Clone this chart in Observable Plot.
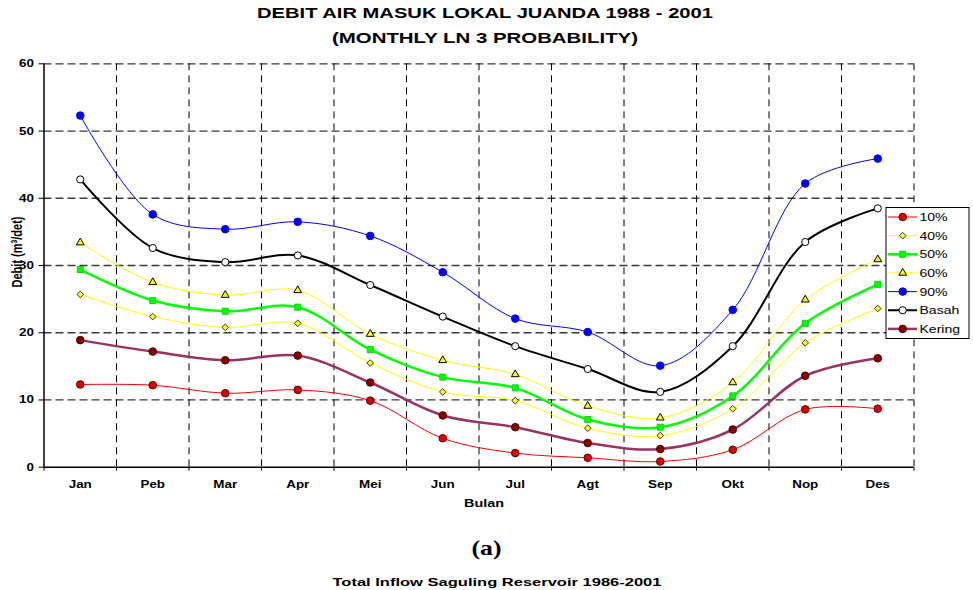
<!DOCTYPE html>
<html><head><meta charset="utf-8">
<script src="https://cdn.jsdelivr.net/npm/d3@7"></script>
<script src="https://cdn.jsdelivr.net/npm/@observablehq/plot@0.6"></script>
<style>
body{margin:0;background:#fff;}
#wrap{position:relative;width:973px;height:590px;overflow:hidden;background:#fff;}
#wrap > svg{position:absolute;left:0;top:0;}
</style></head><body><div id="wrap"></div>
<script>
// ---- data ----
const months = ["Jan","Peb","Mar","Apr","Mei","Jun","Jul","Agt","Sep","Okt","Nop","Des"];
const yTicks = [0, 10, 20, 30, 40, 50, 60];
const seriesNames = ["10%", "40%", "50%", "60%", "90%", "Basah", "Kering"];
const p10    = [12.3, 12.2, 11.0, 11.5,  9.9,  4.3,  2.1,  1.4, 0.85,  2.6,  8.6,  8.7];
const p40    = [25.7, 22.4, 20.8, 21.4, 15.5, 11.2,  9.9,  5.8,  4.7,  8.7, 18.5, 23.6];
const p50    = [29.4, 24.8, 23.2, 23.8, 17.5, 13.4, 11.8,  7.1, 5.95, 10.6, 21.4, 27.2];
const p60    = [33.4, 27.5, 25.6, 26.3, 19.8, 15.9, 13.8,  9.1, 7.35, 12.6, 24.9, 30.9];
const p90    = [52.3, 37.6, 35.4, 36.5, 34.4, 29.0, 22.1, 20.1, 15.1, 23.4, 42.2, 45.9];
const basah  = [42.8, 32.6, 30.5, 31.5, 27.1, 22.4, 18.0, 14.6, 11.2, 18.0, 33.5, 38.5];
const kering = [18.9, 17.2, 15.9, 16.6, 12.6,  7.7, 5.95,  3.6,  2.7,  5.6, 13.6, 16.2];
const titleLines = ["DEBIT AIR MASUK LOKAL JUANDA 1988 - 2001", "(MONTHLY LN 3 PROBABILITY)"];
const xLabel = "Bulan";
const yLabel = "Debit (m\u00B3/det)";
const panelLabel = "(a)";
const caption = "Total Inflow Saguling Reservoir 1986-2001";

// ---- styles ----
const styles = [
  {line:"#FF0000", lw:1,   symbol:"circle",   r:3.8, fill:"#DD0000", stroke:"#660000"},
  {line:"#FFFF00", lw:1,   symbol:"diamond2", r:3.0, fill:"#FFFF00", stroke:"#333333"},
  {line:"#00FF00", lw:2.5, symbol:"square",   r:3.4, fill:"#00FF00", stroke:"#00DD00"},
  {line:"#FFFF00", lw:1,   symbol:"triangle", r:2.9, fill:"#FFFF00", stroke:"#000000"},
  {line:"#0000FF", lw:1,   symbol:"circle",   r:3.8, fill:"#0000FF", stroke:"#0000FF"},
  {line:"#000000", lw:2,   symbol:"circle",   r:3.6, fill:"#FFFFFF", stroke:"#000000"},
  {line:"#993366", lw:2.5, symbol:"circle",   r:3.8, fill:"#8B0000", stroke:"#4A0000"}
];
const seriesValues = [p10, p40, p50, p60, p90, basah, kering];
const FONT = "'Liberation Sans', Arial, sans-serif";
const SX = 1.22; // horizontal text stretch seen in reference

const xDomain = [0.5, months.length + 0.5];
const xIndex = months.map((m, i) => i + 1);
const xBounds = d3.range(xDomain[0], xDomain[1] + 0.01, 1);

const marks = [
  Plot.ruleY(yTicks.filter(d => d > 0), {stroke:"#3a3a3a", strokeWidth:1.3, strokeDasharray:"8,4"}),
  Plot.ruleX(xBounds.slice(1), {stroke:"#000", strokeWidth:1, strokeDasharray:"7,5"}),
  Plot.axisY({ticks: yTicks, tickSize: 5, tickPadding: 5, label: null, tickFormat: d => d}),
  Plot.axisX({ticks: xBounds, tickSize: 4, tickFormat: () => "", label: null}),
  Plot.axisX({ticks: xIndex, tickSize: 0, tickPadding: 13, tickFormat: i => months[i - 1], label: null}),
  Plot.ruleY([yTicks[0]], {stroke:"#000", strokeWidth:1.5}),
  Plot.ruleX([xDomain[0]], {stroke:"#000", strokeWidth:1.5})
];
seriesValues.forEach((vals, k) => {
  const st = styles[k];
  const rows = vals.map((v, i) => ({m: i + 1, v, s: seriesNames[k]}));
  marks.push(Plot.line(rows, {x:"m", y:"v", curve:"catmull-rom", stroke: st.line, strokeWidth: st.lw}));
  marks.push(Plot.dot(rows, {x:"m", y:"v", symbol: st.symbol, r: st.r, fill: st.fill, stroke: st.stroke, strokeWidth: 1}));
});

const chart = Plot.plot({
  width: 973, height: 590,
  marginTop: 63.3, marginBottom: 123.3, marginLeft: 43.5, marginRight: 59.5,
  x: {type: "linear", domain: xDomain},
  y: {domain: [yTicks[0], yTicks[yTicks.length - 1]]},
  style: {fontFamily: FONT, fontSize: "11px", fontWeight: "bold", background: "none", color: "#000"},
  marks
});
document.getElementById("wrap").appendChild(chart);
chart.querySelectorAll("text").forEach(t => {
  const x = +(t.getAttribute("x") || 0);
  const tr = t.getAttribute("transform") || "";
  t.setAttribute("transform", `${tr} translate(${x},0) scale(${SX},1) translate(${-x},0)`);
});

// ---- overlay: titles, axis labels, legend ----
const ov = d3.select("#wrap").append("svg").attr("width", 973).attr("height", 590)
  .style("font-family", FONT);
function txt(s, x, y, o = {}) {
  const t = ov.append("text").text(s)
    .attr("text-anchor", o.anchor || "middle")
    .attr("font-size", o.size || 11)
    .attr("font-weight", o.weight || "bold")
    .attr("font-family", o.family || FONT)
    .attr("fill", "#000");
  if (o.len) t.attr("textLength", o.len).attr("lengthAdjust", "spacingAndGlyphs");
  if (o.rotate) {
    t.attr("x", 0).attr("y", 0)
     .attr("transform", `translate(${x},${y}) rotate(${o.rotate}) scale(1,${SX})`);
  } else {
    t.attr("x", x).attr("y", y);
  }
  return t;
}
txt(titleLines[0], 485, 17.5, {size: 15.5, len: 456});
txt(titleLines[1], 485, 43, {size: 15.5, len: 306});
txt(yLabel, 22, 252, {size: 12.5, rotate: -90, len: 71});
txt(xLabel, 484, 506.5, {size: 11, len: 40});
txt(panelLabel, 486.5, 555, {size: 21, family: "'Liberation Serif', 'Times New Roman', serif", len: 30});
txt(caption, 497, 586, {size: 11, len: 329});

const lg = ov.append("g").attr("transform", "translate(886,207.5)");
lg.append("rect").attr("width", 83).attr("height", 131).attr("fill", "#fff").attr("stroke", "#000").attr("stroke-width", 1);
const symMap = {circle: d3.symbolCircle, diamond2: d3.symbolDiamond2, square: d3.symbolSquare, triangle: d3.symbolTriangle};
seriesNames.forEach((name, k) => {
  const st = styles[k];
  const y = 9.5 + k * 18.65;
  const g = lg.append("g").attr("transform", `translate(0,${y})`);
  g.append("line").attr("x1", 2).attr("x2", 31).attr("y1", 0).attr("y2", 0)
    .attr("stroke", st.line).attr("stroke-width", st.lw);
  g.append("path").attr("transform", "translate(16.7,0)")
    .attr("d", d3.symbol().type(symMap[st.symbol]).size(Math.PI * st.r * st.r)())
    .attr("fill", st.fill).attr("stroke", st.stroke).attr("stroke-width", 1);
  g.append("text").attr("x", 33.5).attr("y", 4).text(name)
    .attr("font-size", 11.5).attr("fill", "#000")
    .attr("transform", `translate(33.5,0) scale(${SX},1) translate(-33.5,0)`);
});
</script></body></html>
